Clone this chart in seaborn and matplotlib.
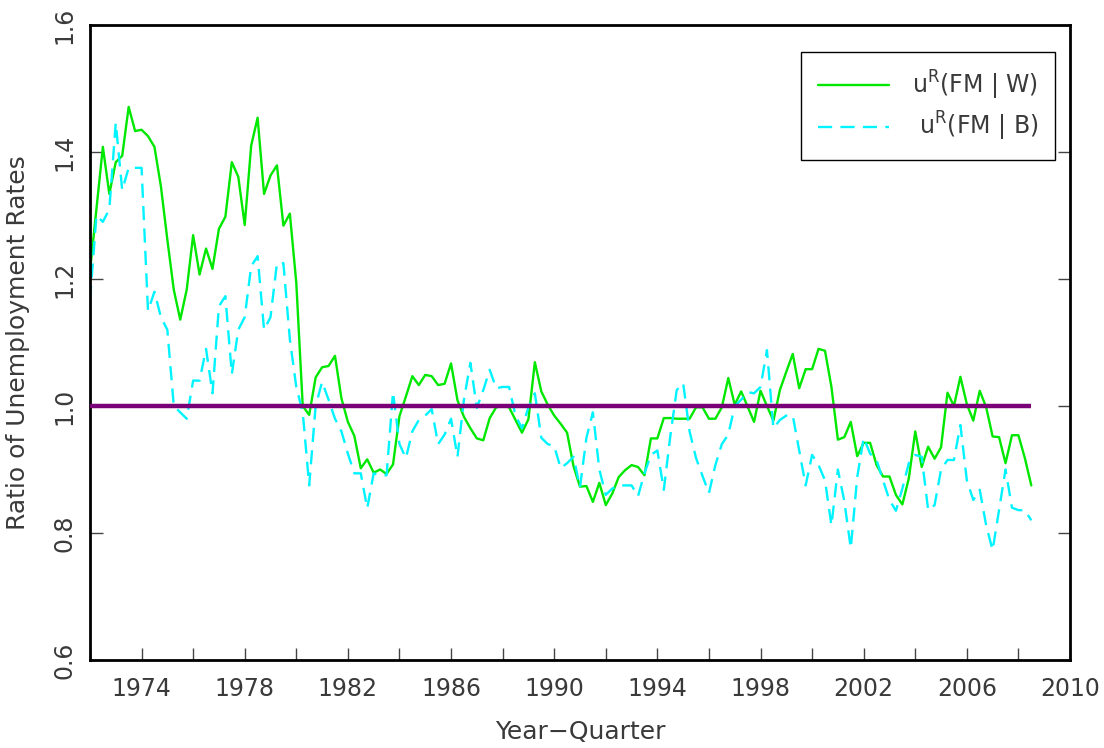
import numpy as np
import seaborn as sns
import matplotlib.pyplot as plt
from matplotlib.ticker import MultipleLocator

# quarterly ratios, first quarter = 1972Q1
start_year = 1972
ratio_fm_w = [
    1.212, 1.310, 1.408, 1.334,
    1.384, 1.394, 1.471, 1.433,
    1.435, 1.425, 1.408, 1.346,
    1.262, 1.183, 1.136, 1.183,
    1.269, 1.207, 1.248, 1.216,
    1.279, 1.298, 1.384, 1.361,
    1.285, 1.410, 1.454, 1.334,
    1.363, 1.379, 1.284, 1.303,
    1.194, 1.000, 0.986, 1.045,
    1.061, 1.063, 1.079, 1.012,
    0.975, 0.953, 0.902, 0.916,
    0.895, 0.900, 0.893, 0.908,
    0.984, 1.015, 1.047, 1.033,
    1.049, 1.047, 1.033, 1.035,
    1.067, 1.009, 0.983, 0.965,
    0.949, 0.946, 0.981, 0.998,
    1.000, 0.998, 0.978, 0.958,
    0.979, 1.069, 1.023, 1.002,
    0.985, 0.972, 0.958, 0.905,
    0.873, 0.874, 0.849, 0.879,
    0.844, 0.862, 0.888, 0.899,
    0.907, 0.904, 0.891, 0.949,
    0.949, 0.981, 0.981, 0.980,
    0.980, 0.980, 0.998, 0.998,
    0.980, 0.980, 0.998, 1.044,
    1.002, 1.023, 0.999, 0.975,
    1.024, 1.000, 0.977, 1.025,
    1.054, 1.082, 1.028, 1.058,
    1.058, 1.090, 1.087, 1.030,
    0.947, 0.951, 0.975, 0.921,
    0.942, 0.942, 0.907, 0.889,
    0.889, 0.860, 0.845, 0.886,
    0.960, 0.904, 0.936, 0.917,
    0.935, 1.021, 1.000, 1.046,
    1.003, 0.977, 1.024, 0.998,
    0.952, 0.951, 0.910, 0.954,
    0.954, 0.918, 0.875,
]
ratio_fm_b = [
    1.167, 1.300, 1.290, 1.310,
    1.446, 1.340, 1.375, 1.375,
    1.375, 1.150, 1.180, 1.140,
    1.120, 1.000, 0.990, 0.980,
    1.040, 1.040, 1.090, 1.020,
    1.157, 1.173, 1.050, 1.120,
    1.140, 1.220, 1.236, 1.120,
    1.140, 1.225, 1.225, 1.105,
    1.030, 0.990, 0.875, 1.000,
    1.038, 1.010, 0.980, 0.960,
    0.925, 0.894, 0.894, 0.839,
    0.894, 0.891, 0.891, 1.022,
    0.940, 0.918, 0.960, 0.978,
    0.985, 0.995, 0.940, 0.955,
    0.980, 0.920, 1.010, 1.068,
    0.997, 1.025, 1.057, 1.028,
    1.030, 1.030, 0.985, 0.965,
    0.998, 1.020, 0.950, 0.940,
    0.937, 0.902, 0.910, 0.920,
    0.872, 0.950, 0.990, 0.900,
    0.860, 0.870, 0.875, 0.875,
    0.875, 0.858, 0.894, 0.923,
    0.930, 0.868, 0.952, 1.025,
    1.036, 0.960, 0.918, 0.890,
    0.863, 0.907, 0.940, 0.955,
    1.000, 1.010, 1.022, 1.020,
    1.030, 1.088, 0.965, 0.978,
    0.985, 0.985, 0.930, 0.875,
    0.923, 0.907, 0.883, 0.812,
    0.900, 0.850, 0.776, 0.888,
    0.950, 0.925, 0.915, 0.883,
    0.852, 0.835, 0.870, 0.910,
    0.923, 0.920, 0.836, 0.844,
    0.900, 0.915, 0.915, 0.970,
    0.883, 0.852, 0.868, 0.812,
    0.773, 0.836, 0.900, 0.840,
    0.836, 0.836, 0.820,
]
year_labels = [1974, 1978, 1982, 1986, 1990, 1994, 1998, 2002, 2006, 2010]
y_ticks = [0.6, 0.8, 1.0, 1.2, 1.4, 1.6]

t_w = start_year + 0.25 * np.arange(len(ratio_fm_w))
t_b = start_year + 0.25 * np.arange(len(ratio_fm_b))

sns.set_style("ticks")
plt.rcParams["font.family"] = ["DejaVu Sans"]
plt.rcParams["mathtext.default"] = "regular"

fig = plt.figure(figsize=(11.04, 7.48), dpi=100)
ax = fig.add_axes([0.0815, 0.1176, 0.8877, 0.849])

sns.lineplot(x=t_w, y=ratio_fm_w, ax=ax, color="#00e800", lw=1.7,
             label=r"u$^{R}$(FM | W)")
sns.lineplot(x=t_b, y=ratio_fm_b, ax=ax, color="#00f4ff", lw=1.7,
             linestyle=(0, (6, 3.5)), label=r" u$^{R}$(FM | B)")
ax.hlines(1.0, t_w[0], t_w[-1], color="#7a0078", lw=3.2, zorder=5)

ax.set_xlim(1972, 2010)
ax.set_ylim(0.6, 1.6)
ax.set_xticks(year_labels)
ax.xaxis.set_minor_locator(MultipleLocator(2))
ax.set_yticks(y_ticks)
ax.set_yticklabels([f"{v:.1f}" for v in y_ticks], rotation=90, va="center")

ax.tick_params(axis="both", which="both", direction="in", length=9, width=1,
               color="#444444", labelsize=17, labelcolor="#3a3a3a",
               right=True, pad=12)
ax.tick_params(axis="y", pad=10)

for sp in ax.spines.values():
    sp.set_linewidth(2)
    sp.set_color("black")

ax.set_xlabel("Year\u2212Quarter", fontsize=18, color="#3a3a3a", labelpad=14)
ax.set_ylabel("Ratio of Unemployment Rates", fontsize=18, color="#3a3a3a",
              labelpad=16)

leg = ax.legend(loc="upper right", bbox_to_anchor=(0.985, 0.957),
                fontsize=17, frameon=True, fancybox=False, framealpha=1,
                edgecolor="black", borderpad=0.7, handlelength=3.0,
                handletextpad=1.0, labelspacing=0.35, borderaxespad=0)
leg.get_frame().set_linewidth(1.0)
for t in leg.get_texts():
    t.set_color("#3a3a3a")

fig.savefig("out.png", dpi=100)
